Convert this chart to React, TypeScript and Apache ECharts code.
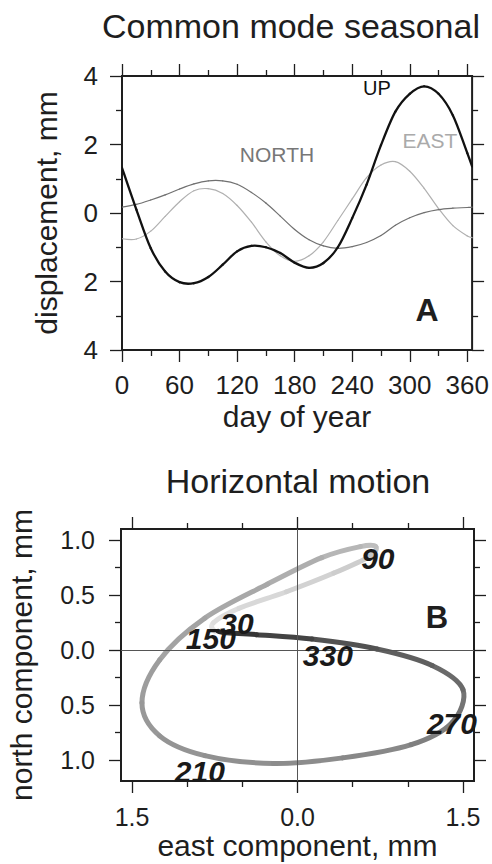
import React, { useEffect, useRef } from "react";
import * as echarts from "echarts";

// ---------- data ----------
const days = [0, 15, 30, 45, 60, 75, 90, 105, 120, 135, 150, 165, 180, 195, 210, 225, 240, 255, 270, 285, 300, 315, 330, 345, 360, 365];
const up = [1.32, 0.1, -1.03, -1.71, -2.02, -2.05, -1.87, -1.51, -1.12, -0.96, -1.0, -1.17, -1.45, -1.6, -1.46, -1.0, -0.15, 0.83, 1.98, 2.96, 3.48, 3.7, 3.48, 2.85, 1.75, 1.36];
const east = [-0.75, -0.76, -0.53, -0.1, 0.33, 0.65, 0.71, 0.57, 0.22, -0.27, -0.84, -1.25, -1.41, -1.25, -0.84, -0.22, 0.41, 1.03, 1.4, 1.5, 1.22, 0.72, 0.13, -0.37, -0.67, -0.72];
const north = [0.17, 0.25, 0.38, 0.53, 0.7, 0.85, 0.94, 0.94, 0.84, 0.6, 0.29, -0.09, -0.48, -0.78, -0.96, -1.03, -0.98, -0.86, -0.66, -0.36, -0.14, 0.01, 0.1, 0.14, 0.16, 0.17];

const labelDays = [30, 90, 150, 210, 270, 330];

// tick values
const aXMajor = [0, 60, 120, 180, 240, 300, 360];
const aXMinor = [30, 90, 150, 210, 270, 330];
const aYMajor = [-4, -2, 0, 2, 4];
const aYMinor = [-3, -1, 1, 3];
const bXMajor = [-1.5, 0, 1.5];
const bXMinor = [-1, -0.5, 0.5, 1];
const bYMajor = [-1, -0.5, 0, 0.5, 1];
const bYMinor = [-0.75, -0.25, 0.25, 0.75];

const FONT = "'Liberation Sans', Arial, Helvetica, sans-serif";
const INK = "#1e1e1e";
const YEAR = 365;

// derivative (per day) of a periodic series at index i, by central differences
function slope(vals: number[], i: number) {
  const n = days.length;
  const prevV = i === 0 ? vals[n - 2] : vals[i - 1];
  const prevT = i === 0 ? days[n - 2] - YEAR : days[i - 1];
  const nextV = i === n - 1 ? vals[1] : vals[i + 1];
  const nextT = i === n - 1 ? days[1] + YEAR : days[i + 1];
  return (nextV - prevV) / (nextT - prevT);
}

function axis(
  gridIndex: number,
  position: string,
  min: number,
  max: number,
  ticks: number[],
  len: number,
  label: null | { size: number; margin: number; fmt: (v: number) => string }
) {
  return {
    type: "value",
    gridIndex,
    position,
    min,
    max,
    axisLine: { show: false, onZero: false },
    axisTick: {
      show: true,
      inside: false,
      length: len,
      customValues: ticks,
      lineStyle: { color: INK, width: 1.3 },
    },
    minorTick: { show: false },
    splitLine: { show: false },
    minorSplitLine: { show: false },
    axisLabel: label
      ? {
          show: true,
          customValues: ticks,
          fontSize: label.size,
          fontFamily: FONT,
          color: INK,
          margin: label.margin,
          formatter: label.fmt,
        }
      : { show: false },
  };
}

// cubic Hermite segment i -> i+1, x and y given as functions of day
function segment(
  api: any,
  i: number,
  xs: number[] | null,
  ys: number[],
  stroke: string,
  width: number
) {
  const n = days.length;
  if (i >= n - 1) return null;
  const h = days[i + 1] - days[i];
  const X = (k: number) => (xs ? xs[k] : days[k]);
  const mx = (k: number) => (xs ? slope(xs, k) : 1);
  const p1 = api.coord([X(i), ys[i]]);
  const p2 = api.coord([X(i + 1), ys[i + 1]]);
  const c1 = api.coord([X(i) + (mx(i) * h) / 3, ys[i] + (slope(ys, i) * h) / 3]);
  const c2 = api.coord([X(i + 1) - (mx(i + 1) * h) / 3, ys[i + 1] - (slope(ys, i + 1) * h) / 3]);
  return {
    type: "bezierCurve",
    shape: {
      x1: p1[0],
      y1: p1[1],
      x2: p2[0],
      y2: p2[1],
      cpx1: c1[0],
      cpy1: c1[1],
      cpx2: c2[0],
      cpy2: c2[1],
    },
    style: { stroke, lineWidth: width, fill: null, lineCap: "round" },
  };
}

export default function App() {
  const ref = useRef<HTMLDivElement>(null);

  useEffect(() => {
    if (!ref.current) return;
    const chart = echarts.init(ref.current, undefined, { renderer: "svg" });

    const aFmt = (v: number) => String(Math.abs(v));
    const bFmt = (v: number) => Math.abs(v).toFixed(1);

    const xAxes = [
      axis(0, "bottom", 0, 365, aXMajor, 12, { size: 26, margin: 22, fmt: aFmt }),
      axis(0, "bottom", 0, 365, aXMinor, 6, null),
      axis(0, "top", 0, 365, aXMajor, 12, null),
      axis(0, "top", 0, 365, aXMinor, 6, null),
      axis(1, "bottom", -1.6, 1.6, bXMajor, 12, { size: 25, margin: 23, fmt: bFmt }),
      axis(1, "bottom", -1.6, 1.6, bXMinor, 6, null),
      axis(1, "top", -1.6, 1.6, bXMajor, 12, null),
      axis(1, "top", -1.6, 1.6, bXMinor, 6, null),
    ];
    const yAxes = [
      axis(0, "left", -4, 4, aYMajor, 12, { size: 26, margin: 24, fmt: aFmt }),
      axis(0, "left", -4, 4, aYMinor, 6, null),
      axis(0, "right", -4, 4, aYMajor, 12, null),
      axis(0, "right", -4, 4, aYMinor, 6, null),
      axis(1, "left", -1.19, 1.1, bYMajor, 12, { size: 25, margin: 26, fmt: bFmt }),
      axis(1, "left", -1.19, 1.1, bYMinor, 6, null),
      axis(1, "right", -1.19, 1.1, bYMajor, 12, null),
      axis(1, "right", -1.19, 1.1, bYMinor, 6, null),
    ];

    const timeSeries = (name: string, vals: number[], color: string, width: number, z: number) => ({
      name,
      type: "custom",
      xAxisIndex: 0,
      yAxisIndex: 0,
      dimensions: ["day", name],
      encode: { x: 0, y: 1 },
      data: days.map((d, i) => [d, vals[i]]),
      clip: true,
      z,
      renderItem: (params: any, api: any) => segment(api, params.dataIndex, null, vals, color, width),
    });

    const loopData = days.map((d, i) => [east[i], north[i], d]);

    const labelOffsets: Record<number, number[]> = {
      30: [-2, 15],
      90: [2, 12],
      150: [6, 20],
      210: [-5, 16],
      270: [0, 1],
      330: [16, 16],
    };
    const labelData = labelDays.map((d) => {
      const k = days.indexOf(d);
      return {
        value: [east[k], north[k]],
        label: { offset: labelOffsets[d] },
      };
    });

    const txt = (text: string, x: number, y: number, size: number, opts: any = {}) => ({
      type: "text",
      x,
      y,
      rotation: opts.rotation || 0,
      z: 100,
      style: {
        text,
        fontSize: size,
        fontFamily: FONT,
        fontWeight: opts.weight || "normal",
        fill: opts.color || INK,
        align: "center",
        verticalAlign: "middle",
      },
    });

    chart.setOption({
      animation: false,
      backgroundColor: "#ffffff",
      grid: [
        { left: 122, top: 76, width: 352, height: 274, show: true, borderColor: INK, borderWidth: 2, backgroundColor: "transparent" },
        { left: 121, top: 529, width: 353, height: 252, show: true, borderColor: INK, borderWidth: 2, backgroundColor: "transparent" },
      ],
      xAxis: xAxes,
      yAxis: yAxes,
      visualMap: {
        show: false,
        type: "continuous",
        seriesIndex: 4,
        dimension: 2,
        min: 0,
        max: 365,
        inRange: {
          color: ["#e2e2e2", "#cdcdcd", "#adadad", "#979797", "#878787", "#5c5c5c", "#222222"],
        },
      },
      series: [
        timeSeries("UP", up, "#111111", 2.3, 5),
        timeSeries("NORTH", north, "#707070", 1.2, 3),
        timeSeries("EAST", east, "#b0b0b0", 1.2, 2),
        {
          name: "axes0",
          type: "line",
          xAxisIndex: 4,
          yAxisIndex: 4,
          data: [],
          z: 1,
          markLine: {
            silent: true,
            symbol: "none",
            label: { show: false },
            lineStyle: { color: "#555555", width: 1, type: "solid" },
            data: [{ xAxis: 0 }, { yAxis: 0 }],
          },
        },
        {
          name: "loop",
          type: "custom",
          xAxisIndex: 4,
          yAxisIndex: 4,
          dimensions: ["east", "north", "day"],
          encode: { x: 0, y: 1 },
          data: loopData,
          z: 3,
          renderItem: (params: any, api: any) =>
            segment(api, params.dataIndex, east, north, api.visual("color"), 5),
        },
        {
          name: "days",
          type: "scatter",
          xAxisIndex: 4,
          yAxisIndex: 4,
          symbolSize: 0,
          data: labelData,
          z: 10,
          itemStyle: { color: "#1a1a1a", opacity: 1 },
          label: {
            show: true,
            position: "inside",
            formatter: (p: any) => String(labelDays[p.dataIndex]),
            fontSize: 30,
            fontWeight: "bold",
            fontStyle: "italic",
            fontFamily: FONT,
            color: "#1a1a1a",
            opacity: 1,
            textBorderWidth: 0,
            textBorderColor: "transparent",
          },
        },
      ],
      graphic: [
        txt("Common mode seasonal", 291, 26, 34),
        txt("displacement, mm", 46, 213, 30, { rotation: Math.PI / 2 }),
        txt("day of year", 297, 416.5, 30),
        txt("A", 427, 310, 32, { weight: "bold" }),
        txt("UP", 377, 88, 20, { color: "#111111" }),
        txt("NORTH", 277, 154, 21, { color: "#777777" }),
        txt("EAST", 430, 140, 21, { color: "#aaaaaa" }),
        txt("Horizontal motion", 298, 481, 34),
        txt("north component, mm", 21.5, 655, 30, { rotation: Math.PI / 2 }),
        txt("east component, mm", 297.5, 845, 30),
        txt("B", 437, 617, 31, { weight: "bold" }),
      ],
    });

    return () => chart.dispose();
  }, []);

  return <div ref={ref} style={{ position: "fixed", left: 0, top: 0, width: 492, height: 864 }} />;
}
